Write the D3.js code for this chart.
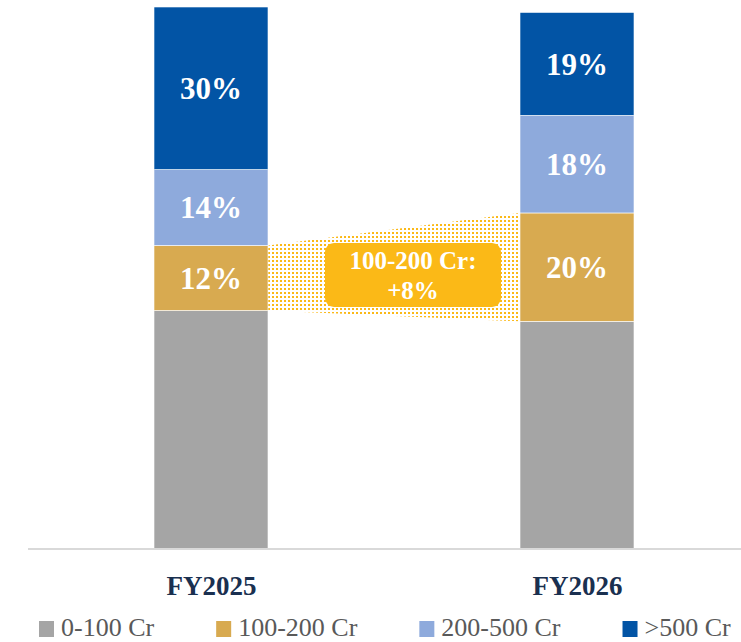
<!DOCTYPE html>
<html>
<head>
<meta charset="utf-8">
<script src="https://cdn.jsdelivr.net/npm/d3@7"></script>
<style>
	body { margin: 0; background: #fff; }
	svg { display: block; }
</style>
</head>
<body>
<div id="chart"></div>
<script>
let WIDTH = 741;
let HEIGHT = 642;
let SERIF = "'Liberation Serif', 'DejaVu Serif', serif";

// data
let years = ["FY2025", "FY2026"];
let bands = ["0-100 Cr", "100-200 Cr", "200-500 Cr", ">500 Cr"];
let share0to100 = [44, 42];
let share100to200 = [12, 20];
let share200to500 = [14, 18];
let shareAbove500 = [30, 19];
let colors = ["#a5a5a5", "#d8aa50", "#8eaadc", "#0254a5"];
let callout = ["100-200 Cr:", "+8%"];

let rows = years.map((year, i) => ({
	year,
	"0-100 Cr": share0to100[i],
	"100-200 Cr": share100to200[i],
	"200-500 Cr": share200to500[i],
	">500 Cr": shareAbove500[i]
}));

let stacked = d3.stack().keys(bands)(rows);

let svg = d3.select("#chart").append("svg").
	attr("width", WIDTH).
	attr("height", HEIGHT);

let x = d3.scalePoint().domain(years).range([211, 577]);
let BAR = 114;
let y = d3.scaleLinear().domain([0, 100]).range([549, 7]);
let color = d3.scaleOrdinal().domain(bands).range(colors);

// dotted bridge between the two 100-200 segments
let defs = svg.append("defs");
let pattern = defs.append("pattern").
	attr("id", "dots").
	attr("patternUnits", "userSpaceOnUse").
	attr("width", 4).
	attr("height", 4);
pattern.append("rect").
	attr("width", 2).
	attr("height", 2).
	attr("fill", "#fbb917");

let gold = stacked[1];
let left = gold[0], right = gold[1];
let x0 = x(years[0]) + BAR / 2, x1 = x(years[1]) - BAR / 2;
svg.append("path").
	attr("d", `M${x0},${y(left[1])}L${x1},${y(right[1])}L${x1},${y(right[0])}L${x0},${y(left[0])}Z`).
	attr("fill", "url(#dots)");

// bars
let layer = svg.append("g").
	selectAll("g").
	data(stacked).
	join("g").
	attr("fill", d => color(d.key));

layer.selectAll("rect").
	data(d => d).
	join("rect").
	attr("x", d => x(d.data.year) - BAR / 2).
	attr("width", BAR).
	attr("y", d => y(d[1])).
	attr("height", d => y(d[0]) - y(d[1])).
	attr("stroke", "#fff").
	attr("stroke-width", 0.6);

// segment labels (skip the grey base)
let labelled = stacked.slice(1);
svg.append("g").
	selectAll("g").
	data(labelled).
	join("g").
	selectAll("text").
	data(d => d).
	join("text").
	attr("x", d => x(d.data.year)).
	attr("y", d => (y(d[0]) + y(d[1])) / 2).
	attr("dy", "0.35em").
	attr("text-anchor", "middle").
	attr("fill", "#fff").
	style("font-family", SERIF).
	style("font-weight", "bold").
	style("font-size", "31px").
	text(d => (d[1] - d[0]) + "%");

// callout box
let mid = (x0 + x1) / 2 + 19;
let box = svg.append("g").
	attr("transform", `translate(${mid}, ${(y(left[0]) + y(left[1])) / 2 - 3})`);
box.append("rect").
	attr("x", -88).
	attr("y", -32).
	attr("width", 176).
	attr("height", 64).
	attr("rx", 9).
	attr("fill", "#fbb917");
box.selectAll("text").
	data(callout).
	join("text").
	attr("text-anchor", "middle").
	attr("y", (d, i) => i === 0 ? -6 : 24).
	attr("fill", "#fff").
	style("font-family", SERIF).
	style("font-weight", "bold").
	style("font-size", "25px").
	text(d => d);

// axis
let axis = svg.append("g").
	attr("transform", `translate(0, ${y(0)})`).
	call(d3.axisBottom(x).tickSize(0).tickPadding(27));
axis.select(".domain").remove();
axis.append("line").
	attr("x1", 28).
	attr("x2", WIDTH).
	attr("stroke", "#d9d9d9").
	attr("stroke-width", 2);
axis.selectAll(".tick text").
	attr("fill", "#1a3050").
	style("font-family", SERIF).
	style("font-weight", "bold").
	style("font-size", "27px");

// legend
let legend = svg.append("g").
	attr("transform", "translate(39, 627)");
let cursor = 0;
bands.forEach(key => {
	let item = legend.append("g").attr("transform", `translate(${cursor}, 0)`);
	item.append("rect").
		attr("y", -6).
		attr("width", 15).
		attr("height", 16).
		attr("fill", color(key));
	let t = item.append("text").
		attr("x", 22).
		attr("dy", "0.35em").
		attr("fill", "#595959").
		style("font-family", SERIF).
		style("font-size", "26px").
		text(key);
	cursor += 22 + t.node().getComputedTextLength() + 62;
});
</script>
</body>
</html>
